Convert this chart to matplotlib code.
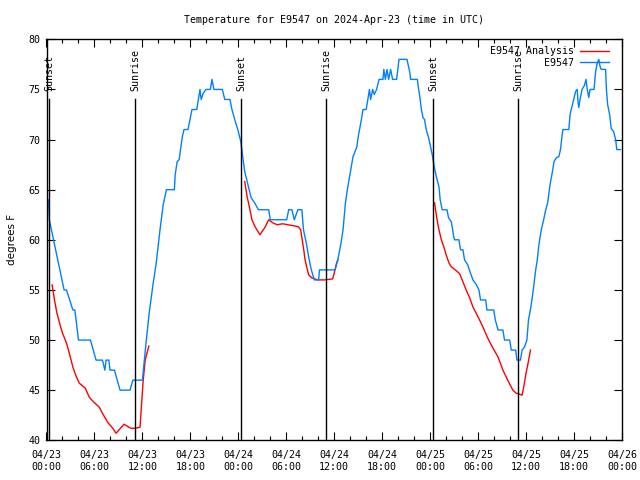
import numpy as np
import pandas as pd
import matplotlib
matplotlib.use("Agg")
import matplotlib.pyplot as plt
import matplotlib.dates as mdates

# hours since 2024-04-23 00:00 UTC
obs_hours = [0.25, 0.35, 2.2, 2.5, 3.3, 3.55, 4.0, 5.5, 6.2, 7.0, 7.3, 7.45, 7.8, 7.95, 8.5,
             9.2, 10.45, 10.8, 12.0, 12.45, 12.85, 13.35, 13.7, 14.2, 14.6, 15.0, 16.0, 16.1,
             16.35, 16.6, 16.8, 17.0, 17.2, 17.7, 17.95, 18.2, 18.8, 19.0, 19.2, 19.35, 19.6,
             19.95, 20.5, 20.7, 20.95, 22.0, 22.3, 22.95, 23.2, 23.55, 24.0, 24.3, 24.4, 24.8,
             25.2, 25.6, 26.1, 26.5, 27.8, 28.0, 30.05, 30.3, 30.7, 31.0, 31.45, 31.95, 32.15,
             32.5, 32.8, 33.1, 33.5, 34.05, 34.15, 36.1, 36.45, 36.85, 37.1, 37.4, 37.7, 38.0,
             38.35, 38.8, 39.05, 39.35, 39.6, 40.0, 40.2, 40.4, 40.55, 40.8, 41.0, 41.3, 41.6,
             42.1, 42.2, 42.4, 42.6, 42.8, 43.05, 43.3, 43.8, 44.1, 45.1, 45.45, 45.55, 46.4,
             46.5, 46.7, 46.9, 47.1, 47.3, 47.5, 47.8, 48.05, 48.3, 48.5, 48.8, 49.1, 49.25,
             49.5, 50.1, 50.3, 50.65, 50.95, 51.05, 51.6, 51.8, 52.1, 52.3, 52.7, 52.9, 53.35,
             53.8, 54.1, 54.3, 54.95, 55.1, 55.95, 56.15, 56.5, 57.1, 57.3, 57.95, 58.15, 58.7,
             58.85, 59.3, 59.5, 59.8, 60.1, 60.3, 60.6, 60.85, 61.2, 61.4, 61.6, 61.9, 62.2,
             62.4, 62.7, 63.0, 63.25, 63.5, 63.8, 64.1, 64.3, 64.45, 64.6, 65.35, 65.5, 65.8,
             65.95, 66.2, 66.4, 66.5, 66.6, 66.75, 67.0, 67.3, 67.5, 67.65, 67.85, 68.0, 68.5,
             68.7, 68.9, 69.1, 69.25, 69.4, 69.95, 70.05, 70.2, 70.45, 70.65, 70.95, 71.2,
             71.35, 71.8]
obs_temp = [64, 62, 55, 55, 53, 53, 50, 50, 48, 48, 47, 48, 48, 47, 47,
            45, 45, 46, 46, 49.7, 52.7, 55.7, 57.5, 61, 63.5, 65, 65, 66.5,
            67.8, 68, 69.2, 70.3, 71, 71, 72, 73, 73, 74, 75, 74, 74.6,
            75, 75, 76, 75, 75, 74, 74, 73, 72, 70.8, 69.8, 69.2, 66.8,
            65.5, 64.2, 63.6, 63, 63, 62, 62, 63, 63, 62, 63, 63, 61,
            59.7, 58.3, 57.1, 56, 56, 57, 57, 58, 59.7, 61, 63.7, 65.3, 66.7,
            68.3, 69.2, 70.5, 71.8, 73, 73, 74, 75, 74, 75, 74.5, 75, 76,
            76, 77, 76, 77, 76, 77, 76, 76, 78, 78, 76.7, 76, 76,
            75.3, 74.3, 73, 72.2, 72, 71, 70.2, 69.3, 68.3, 67.3, 66.2, 65.3, 64,
            63, 63, 62.2, 61.8, 60.3, 60, 60, 59, 59, 58, 57.5, 57, 56,
            55.5, 55, 54, 54, 53, 53, 52, 51, 51, 50, 50, 49, 49,
            48, 48, 49, 49.3, 50, 52, 53.3, 54.7, 57, 58, 59.5, 61, 62,
            62.8, 63.7, 65.5, 66.6, 67.8, 68.2, 68.3, 69, 70, 71, 71, 72.5, 73.5,
            74, 74.8, 75, 73.7, 73.2, 74, 75, 75.4, 76, 75, 74.2, 75, 75,
            76.8, 77.6, 78, 77.3, 77, 77, 75, 73.5, 72.5, 71.1, 70.8, 70,
            69, 69]

ana_hours = [0.7, 1.0, 1.3, 1.7, 2.0, 2.5, 2.85, 3.3, 3.7, 4.1, 4.85, 5.35, 5.8, 6.6, 7.0,
             7.65, 8.3, 8.7, 9.7, 10.55, 11.1, 11.7, 11.9, 12.1, 12.35, 12.8,
             np.nan,
             24.8, 25.1, 25.4, 25.7, 26.1, 26.7, 27.3, 27.8, 28.3, 28.85, 29.55, 30.2, 30.95,
             31.5, 31.8, 31.95, 32.15, 32.35, 32.55, 32.8, 33.2, 33.95, 34.85, 35.8, 36.0,
             36.3, 36.45,
             np.nan,
             48.55, 48.8, 49.1, 49.4, 49.7, 50.0, 50.35, 50.65, 51.3, 51.7, 52.1, 52.5, 52.95,
             53.35, 54.0, 54.6, 55.2, 55.85, 56.5, 57.1, 57.7, 58.35, 58.75, 59.2, 59.5, 59.7,
             59.95, 60.25, 60.55]
ana_temp = [55.5, 54, 52.7, 51.5, 50.7, 49.7, 48.7, 47.3, 46.4, 45.7, 45.2, 44.3, 43.9, 43.3, 42.7,
            41.8, 41.2, 40.7, 41.6, 41.2, 41.2, 41.3, 43.7, 46, 48, 49.4,
            np.nan,
            65.8, 64.3, 63.2, 62, 61.3, 60.5, 61.2, 62, 61.7, 61.5, 61.6, 61.5, 61.4,
            61.3, 61, 60.2, 59.2, 58, 57.3, 56.5, 56.2, 56, 56, 56.1, 56.7,
            57.7, 58,
            np.nan,
            63.7, 62.3, 61, 60, 59.3, 58.5, 57.7, 57.3, 56.9, 56.6, 55.8, 55, 54.2,
            53.3, 52.3, 51.3, 50.2, 49.2, 48.3, 47, 46, 45, 44.7, 44.6, 44.5, 45.3,
            46.5, 47.7, 49]

sun_hours = [0.35, 11.1, 24.35, 35.0, 48.35, 58.98]
sun_names = ["Sunset", "Sunrise", "Sunset", "Sunrise", "Sunset", "Sunrise"]

base = mdates.date2num(pd.Timestamp("2024-04-23 00:00").to_pydatetime())
def to_time(h):
    return base + np.asarray(h, dtype=float) / 24.0

mono = "DejaVu Sans Mono"
fs = 7.2

fig = plt.figure(figsize=(6.4, 4.8), dpi=100)
ax = fig.add_axes([46.5 / 640, 1 - 440.3 / 480, (622 - 46.5) / 640, (440.3 - 39.3) / 480])

ax.plot(to_time(ana_hours), ana_temp, color="#ff0000", lw=1.0, label="E9547 Analysis")
ax.plot(to_time(obs_hours), obs_temp, color="#0080ff", lw=1.0, label="E9547")

for h, name in zip(sun_hours, sun_names):
    t = to_time(h)
    ax.plot([t, t], [40, 74], color="black", lw=1.0)
    ax.text(t, 74.8, name, rotation=90, ha="center", va="bottom", family=mono, fontsize=fs)

ax.xaxis_date()
ax.set_xlim(to_time(0), to_time(72))
ax.set_ylim(40, 80)
ax.set_yticks(range(40, 81, 5))
ax.xaxis.set_major_locator(mdates.HourLocator(byhour=[0, 6, 12, 18]))
ax.xaxis.set_minor_locator(mdates.HourLocator(byhour=range(0, 24, 2)))
ax.xaxis.set_major_formatter(mdates.DateFormatter("%m/%d\n%H:%M"))
ax.tick_params(which="both", direction="in", top=True, right=True, width=0.8)
ax.tick_params(which="major", length=6)
ax.tick_params(which="minor", length=3)
ax.tick_params(axis="x", which="major", pad=7)
ax.tick_params(axis="y", which="major", pad=4.5)
for lab in ax.get_xticklabels() + ax.get_yticklabels():
    lab.set_family(mono)
    lab.set_fontsize(fs)
for s in ax.spines.values():
    s.set_linewidth(1.0)

ax.set_title("Temperature for E9547 on 2024-Apr-23 (time in UTC)", family=mono, fontsize=fs, pad=11.5)
ax.set_ylabel("degrees F", fontsize=7.5, labelpad=8)

leg = ax.legend(loc="upper right", bbox_to_anchor=(0.9896, 1.0), frameon=False, markerfirst=False,
                prop={"family": mono, "size": fs},
                handlelength=2.9, handletextpad=0.6, labelspacing=0.15, borderaxespad=0.3)

fig.savefig("out.png", dpi=100)
